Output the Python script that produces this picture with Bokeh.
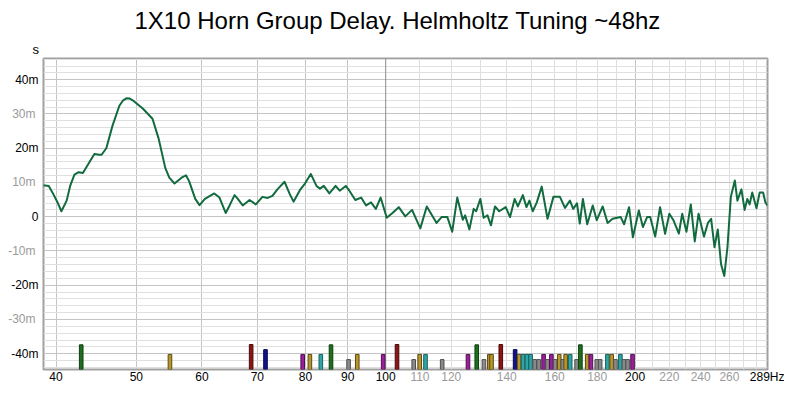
from bokeh.plotting import figure
from bokeh.models import (ColumnDataSource, FixedTicker, Span, Range1d, Title,
                          LinearAxis, LogAxis)
from bokeh.embed import file_html
from bokeh.resources import INLINE

TITLE = "1X10 Horn Group Delay. Helmholtz Tuning ~48hz"
FONT = "Liberation Sans"

# ---- group delay curve (Hz, ms) ----
freq_hz = [38.6, 39.2, 39.7, 40.2, 40.6, 41.2, 41.6, 42.1, 42.6, 43.1, 43.7, 44.5, 45.1, 45.4,
           46.0, 46.8, 47.7, 48.2, 48.7, 49.1, 49.5, 50.9, 52.3, 53.2, 54.2, 54.8, 55.6, 56.7,
           57.4, 57.9, 58.9, 59.6,
           60.5, 62.1, 63.0, 64.1, 64.8, 65.7, 66.3, 67.2, 68.5, 69.7, 71.0, 72.0, 73.0, 74.0,
           75.5, 76.6, 77.4, 78.9, 79.9, 81.2, 82.5, 83.3, 84.2, 85.5, 87.0, 88.0, 89.5, 90.4,
           91.9, 93.4, 94.7, 96.0, 97.3, 98.6, 100.3, 101.9, 103.7, 105.6, 107.6, 110.1, 112.1,
           115.2, 116.8, 118.7, 120.3, 122.0, 123.9, 124.7, 126.2, 127.7, 128.6, 130.1, 131.3,
           132.7, 134.0, 135.5, 137.1, 139.6, 141.3, 143.1, 144.4, 146.4, 147.9, 149.1, 150.5,
           152.2, 154.3, 156.8, 159.4, 162.3, 164.6, 166.9, 168.4, 170.2, 171.5, 173.0, 175.1,
           177.8, 179.8, 182.8, 185.3, 187.9, 192.2, 194.0, 196.7, 198.8, 202.1, 204.4, 206.8,
           208.6, 211.5, 214.4, 217.4, 220.0, 222.5, 225.9, 228.0, 230.7, 233.5, 236.1, 238.6,
           242.2, 244.9, 247.1, 249.4, 251.7, 254.0, 256.3, 258.6, 261.0, 263.9, 265.8, 268.8,
           271.2, 273.2, 275.0, 277.0, 280.3, 282.8, 285.5, 287.3, 289.0]
group_delay_ms = [9.2, 9.0, 6.6, 4.0, 1.6, 4.7, 9.0, 12.3, 13.0, 12.8, 15.2, 18.3, 18.1, 18.1,
                  20.0, 26.6, 32.4, 34.0, 34.6, 34.5, 34.0, 31.6, 28.6, 22.8, 14.2, 11.4, 9.7, 11.4,
                  12.1, 10.4, 5.2, 3.4,
                  5.2, 6.8, 5.6, 1.1, 3.3, 6.3, 5.2, 3.3, 4.9, 3.6, 5.8, 5.5, 6.1, 8.0,
                  10.2, 6.6, 4.4, 8.0, 9.7, 12.5, 9.0, 8.2, 9.0, 6.8, 9.0, 7.6, 9.0, 7.6,
                  4.9, 5.6, 3.3, 4.2, 2.3, 5.6, -0.3, 1.1, 2.8, 0.1, 2.0, -3.4, 3.0,
                  -1.8, -0.1, -0.1, -4.4, 5.6, -0.9, 0.4, -3.7, 2.3, 1.6, 5.2, -0.3,
                  0.4, -2.5, 3.0, 1.6, 2.8, -0.1, 5.2, 3.0, 6.3, 2.8, 4.7, 1.6,
                  4.2, 8.8, -0.6, 5.8, 5.8, 2.6, 4.7, 2.3, 3.9, -2.0, 5.2, -2.2,
                  3.3, -1.0, 3.0, -1.8, -0.6, -0.1, -2.2, 2.8, -6.0, 1.8, -3.0, -0.1,
                  -0.1, -5.8, 2.8, -5.0, 0.9, -1.0, -4.9, 0.9, -4.4, 3.6, -7.2, 0.9,
                  -5.8, -1.8, -0.6, -8.9, -3.7, -13.9, -17.3, -8.7, 5.8, 10.6, 4.7, 8.0,
                  2.0, 5.2, 3.6, 7.1, 2.5, 7.1, 7.1, 4.2, 3.3]

# ---- mode markers at the bottom (Hz, kind) ----
bar_freq_hz = [42.9, 54.9, 68.8, 71.6, 79.4, 81.0, 83.5, 85.9, 90.2, 92.4, 99.3, 103.2, 108.1,
               109.9, 111.7, 117.0, 125.7, 128.8, 131.4, 133.4, 134.2, 137.7, 143.3, 144.9,
               146.5, 148.1, 149.6, 151.3, 153.0, 155.1, 156.8, 158.5, 160.2, 162.0, 163.6,
               164.9, 167.0, 170.0, 171.8, 175.1, 176.9, 179.8, 181.5, 185.2, 187.4, 189.4,
               192.0, 193.9, 195.9, 198.6]
bar_kind = ["green", "gold", "red", "blue", "purple", "gold", "cyan", "green", "gray", "gold",
            "purple", "red", "gray", "gold", "cyan", "gray", "purple", "green", "gray", "gold",
            "gold", "red", "blue", "gold", "cyan", "cyan", "cyan", "gray", "gray", "purple",
            "gray", "purple", "gray", "gold", "gray", "gold", "cyan", "gray", "green", "gold",
            "purple", "gray", "gray", "cyan", "gold", "gray", "cyan", "gray", "gray", "purple"]
kind_top_ms = {"green": -37.4, "red": -37.3, "blue": -38.8, "purple": -40.2,
               "gold": -40.2, "cyan": -40.2, "gray": -41.7}
kind_fill = {"green": "#1e6e1e", "red": "#8b1515", "blue": "#12128c", "purple": "#9b1f9b",
             "gold": "#b8962e", "cyan": "#2fa5a5", "gray": "#8a8a8a"}
kind_line = {"green": "#0f3f0f", "red": "#4a0a0a", "blue": "#08084f", "purple": "#4f0f4f",
             "gold": "#5a4a12", "cyan": "#156060", "gray": "#505050"}

# ---- ticks ----
x_dark_ticks = [40, 50, 60, 70, 80, 90, 100, 200, 289]
x_dark_labels = ["40", "50", "60", "70", "80", "90", "100", "200", "289Hz"]
x_gray_ticks = [110, 120, 140, 160, 180, 220, 240, 260]
x_gray_labels = ["110", "120", "140", "160", "180", "220", "240", "260"]
x_grid_major = [40, 50, 60, 70, 80, 90, 200]
x_grid_minor = [110, 120, 130, 140, 150, 160, 170, 180, 190, 210, 220, 230, 240, 250, 260, 270, 280]
y_dark_ticks = [-40, -20, 0, 20, 40]
y_dark_labels = ["-40m", "-20m", "0", "20m", "40m"]
y_gray_ticks = [-30, -10, 10, 30]
y_gray_labels = ["-30m", "-10m", "10m", "30m"]

X_START, X_END = 38.63, 289.0
Y_START, Y_END = -44.6, 46.2
DARK, GRAY = "#000000", "#9a9a9a"

p = figure(width=784, height=386, x_axis_type="log", title=None,
           x_range=Range1d(X_START, X_END), y_range=Range1d(Y_START, Y_END),
           output_backend="svg", toolbar_location=None,
           min_border_left=43, min_border_right=17, min_border_top=58, min_border_bottom=16,
           background_fill_color="white", border_fill_color="white")

p.outline_line_color = "#a0a0a0"
p.outline_line_width = 2

# grids
p.xgrid.ticker = FixedTicker(ticks=x_grid_major, minor_ticks=x_grid_minor)
p.xgrid.grid_line_color = "#c4c4c4"
p.xgrid.minor_grid_line_color = "#dedede"
p.ygrid.ticker = FixedTicker(ticks=list(range(-40, 41, 10)),
                             minor_ticks=[v for v in range(-44, 47, 2) if v % 10 != 0])
p.ygrid.grid_line_color = "#c4c4c4"
p.ygrid.minor_grid_line_color = "#e0e0e0"
p.add_layout(Span(location=100, dimension="height", line_color="#8a8a8a", line_width=1,
                  level="underlay"))


def style_axis(ax, color, standoff):
    ax.axis_line_color = None
    ax.major_tick_line_color = None
    ax.minor_tick_line_color = None
    ax.major_tick_out = 0
    ax.minor_tick_out = 0
    ax.major_label_standoff = standoff
    ax.major_label_text_font = FONT
    ax.major_label_text_font_size = "12px"
    ax.major_label_text_color = color


# x axes: dark labels on the main axis, gray labels on a second one drawn on the same row
xa = p.xaxis[0]
xa.ticker = FixedTicker(ticks=x_dark_ticks)
xa.major_label_overrides = {t: l for t, l in zip(x_dark_ticks, x_dark_labels)}
style_axis(xa, DARK, 0)
xb = LogAxis(ticker=FixedTicker(ticks=x_gray_ticks),
             major_label_overrides={t: l for t, l in zip(x_gray_ticks, x_gray_labels)})
style_axis(xb, GRAY, -15)
p.add_layout(xb, "below")

# y axes
ya = p.yaxis[0]
ya.ticker = FixedTicker(ticks=y_dark_ticks)
ya.major_label_overrides = {t: l for t, l in zip(y_dark_ticks, y_dark_labels)}
style_axis(ya, DARK, 5)
yb = LinearAxis(ticker=FixedTicker(ticks=y_gray_ticks),
                major_label_overrides={t: l for t, l in zip(y_gray_ticks, y_gray_labels)})
style_axis(yb, GRAY, -27)
p.add_layout(yb, "left")

# bars
bar_top = [kind_top_ms[k] for k in bar_kind]
bar_src = ColumnDataSource(dict(
    x=bar_freq_hz,
    yc=[(t + Y_START) / 2 for t in bar_top],
    h=[t - Y_START for t in bar_top],
    fill=[kind_fill[k] for k in bar_kind],
    line=[kind_line[k] for k in bar_kind],
))
p.rect(x="x", y="yc", width=3.6, width_units="screen", height="h", source=bar_src,
       fill_color="fill", line_color="line", line_width=1)

# curve
p.line(freq_hz, group_delay_ms, line_color="#116b3e", line_width=2, line_join="round")

# unit label (nearest the frame) and main title above it
p.add_layout(Title(text="s", align="left", offset=-11, standoff=4, text_font=FONT,
                   text_font_size="13px", text_font_style="normal", text_color=DARK), "above")
p.add_layout(Title(text=TITLE, align="left", offset=91, standoff=8, text_font=FONT,
                   text_font_size="24px", text_font_style="normal", text_color=DARK), "above")

open("out.html", "w").write(file_html(p, INLINE))
